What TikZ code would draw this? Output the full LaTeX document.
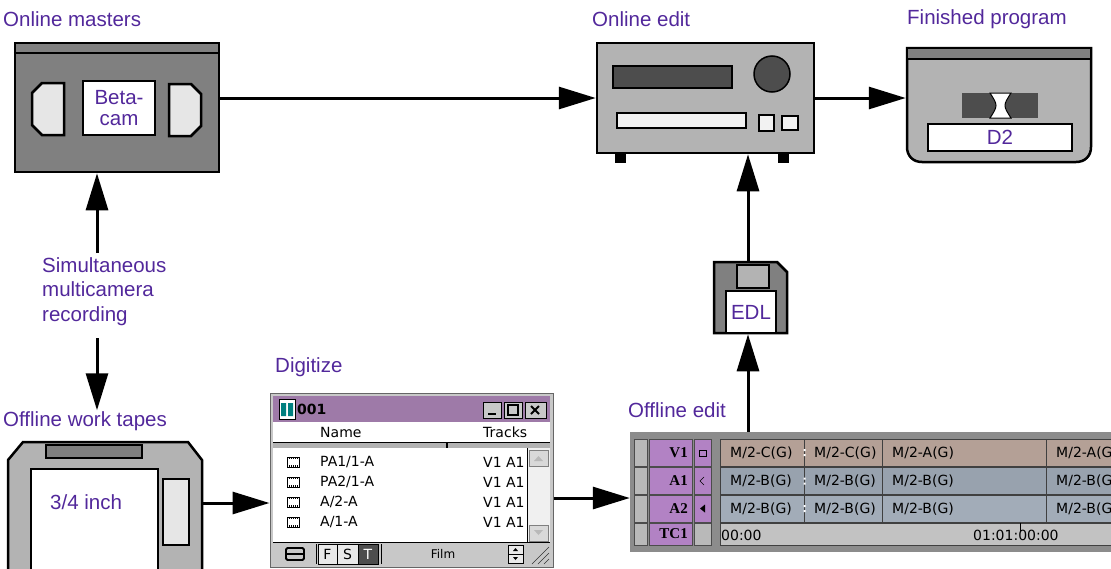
\documentclass[tikz,border=0pt]{standalone}
\usepackage{fontspec}
\setmainfont{Liberation Sans}
\newfontfamily\uifont{DejaVu Sans}
\newfontfamily\trkfont{Liberation Serif}
\usepackage{xcolor}
\usetikzlibrary{arrows.meta,positioning}
\definecolor{lblpurple}{RGB}{82,40,155}
\definecolor{tapegray}{RGB}{128,128,128}
\definecolor{bodygray}{RGB}{179,179,179}
\definecolor{darkgray}{RGB}{77,77,77}
\definecolor{panegray}{RGB}{230,230,230}
\definecolor{offwhite}{RGB}{242,242,242}
\definecolor{titlebar}{RGB}{158,122,168}
\definecolor{trackbg}{RGB}{178,130,196}
\definecolor{clipv}{RGB}{180,160,150}
\definecolor{clipa}{RGB}{152,162,174}
\definecolor{clipb}{RGB}{162,172,184}
\definecolor{panel}{RGB}{140,140,140}
\definecolor{ruler}{RGB}{194,194,194}
\definecolor{winframe}{RGB}{200,200,200}

\begin{document}
\begin{tikzpicture}[x=1pt, y=-1pt,
  lbl/.style={font=\fontsize{20.5}{22}\selectfont, text=lblpurple, inner sep=1pt},
  part/.style={draw, line width=2.5pt},
  tag/.style={lbl, part, fill=white, inner sep=0pt, align=center},
  ghost/.style={inner sep=0pt, outer sep=1.25pt},
  arr/.style={-{Triangle[length=37pt, width=22pt]}, line width=3pt},
  ui/.style={font=\uifont\fontsize{14}{16}\selectfont, inner sep=0pt},
  trk/.style={font=\trkfont\bfseries\fontsize{15}{17}\selectfont, inner sep=0pt}]
\useasboundingbox (0,0) rectangle (1111,568);

% captions
\node[lbl, anchor=west] (capbeta) at (2,19) {Online masters};
\node[lbl, anchor=west] (capdeck) at (591,19) {Online edit};
\node[lbl, anchor=west] (capd2) at (906,19) {Finished program};
\node[lbl, anchor=north west, align=left, font=\fontsize{20.5}{24.5}\selectfont] (sim) at (41,256)
  {Simultaneous\\multicamera\\recording};
\node[lbl, anchor=west] (captapes) at (2,421) {Offline work tapes};
\node[lbl, anchor=west] (capdig) at (274,367) {Digitize};
\node[lbl, anchor=west] (captl) at (627,410) {Offline edit};

% Betacam master
\node[part, fill=tapegray, minimum width=204pt, minimum height=129pt, inner sep=0pt] (beta) at (117,107.5) {};
\draw[part] (beta.north west |- 0,53) -- (beta.north east |- 0,53);
\draw[part, fill=panegray] (64,83) -- (42,83) -- (32,93) -- (32,125) -- (42,135) -- (64,135) -- cycle;
\draw[part, fill=panegray] (169,84) -- (191,84) -- (201,94) -- (201,126) -- (191,136) -- (169,136) -- cycle;
\node[tag, minimum width=72pt, minimum height=54pt, font=\fontsize{20.5}{21}\selectfont] (betalbl) at (119,108) {Beta-\\cam};

% online edit deck
\node[part, fill=bodygray, minimum width=217pt, minimum height=110pt, inner sep=0pt] (deck) at (705.5,98) {};
\draw[part, fill=darkgray] (613,66) rectangle (732,88);
\draw[line width=1.5pt, fill=darkgray] (772,74) circle[radius=18pt];
\draw[part, fill=offwhite] (617,113) rectangle (746,128);
\draw[part, fill=offwhite] (759,115) rectangle (774,131);
\draw[part, fill=offwhite] (782,116) rectangle (798,130);
\fill (615,154) rectangle (626,163);
\fill (778,154) rectangle (789,163);

% D2 cassette
\node[ghost, minimum width=184pt, minimum height=114pt] (d2) at (999,105) {};
\draw[part, fill=bodygray] (907,48) -- (1091,48) -- (1091,147) .. controls (1091,156) and (1085,162) .. (1076,162)
  -- (922,162) .. controls (913,162) and (907,156) .. (907,147) -- cycle;
\draw[part, fill=tapegray] (907,48) rectangle (1091,59);
\fill[darkgray] (962,93) rectangle (1038,118);
\draw[line width=1pt, fill=white] (990,93) .. controls (998,105.5) .. (990,118) -- (1011,118)
  .. controls (1003,105.5) .. (1011,93) -- cycle;
\node[tag, minimum width=144pt, minimum height=27pt] (d2lbl) at (1000,137.5) {D2};

% EDL floppy
\node[ghost, minimum width=73pt, minimum height=71pt] (edl) at (750.5,297.5) {};
\draw[part, fill=tapegray] (714,262) -- (777,262) -- (787,272) -- (787,333) -- (714,333) -- cycle;
\draw[part, fill=bodygray] (737,265) rectangle (769,288);
\node[tag, minimum width=50pt, minimum height=42pt] (edllbl) at (751,312) {EDL};

% 3/4 inch work tape
\node[ghost, minimum width=194pt, minimum height=122pt] (tapes) at (105,503) {};
\draw[part, fill=bodygray] (8,575) -- (8,460) -- (23,442) -- (188,442) -- (202,460) -- (202,575);
\draw[line width=2pt, fill=tapegray] (46,445) rectangle (142,458);
\draw[part, fill=white] (31,469) rectangle (158,575);
\draw[part, fill=panegray] (163,479) rectangle (189,545);
\node[lbl, anchor=west] (tapetxt) at (49,502) {3/4 inch};

% digitize bin window
\node[draw=black!60, line width=1pt, fill=winframe, minimum width=283pt, minimum height=174pt, inner sep=0pt] (dig) at (411.5,480) {};
\fill[titlebar] (273,396) rectangle (550,422);
\draw[fill=white] (279,399) rectangle (295,419);
\fill[teal] (281,403) rectangle (286,416) (288,403) rectangle (293,416);
\node[ui, font=\uifont\bfseries\fontsize{14}{16}\selectfont, anchor=west] (binname) at (297,409) {001};
\draw[fill=winframe] (483,402) rectangle (501,418) (504,402) rectangle (522,418) (525,402) rectangle (546,418);
\draw[line width=2pt] (488,414) -- (496,414);
\draw[line width=1.2pt] (508,405) rectangle (518,415);
\draw[line width=1.8pt] (531,406) -- (539,414) (539,406) -- (531,414);
\fill[white] (273,422) rectangle (550,442);
\node[ui, anchor=west] (hdname) at (320,432) {Name};
\node[ui, anchor=west] (hdtracks) at (483,432) {Tracks};
\fill[gray!60] (273,442) rectangle (550,448);
\draw[line width=1pt] (273,442.5) -- (550,442.5) (273,448) -- (550,448);
\draw[line width=2pt] (447,442) -- (447,448);
\fill[white] (273,448) rectangle (527,542);
% clip rows, each with a film-strip icon
\foreach \bname [count=\i] in {PA1/1-A, PA2/1-A, A/2-A, A/1-A} {
  \draw[line width=1pt] (287,{442+20*\i-5}) rectangle (299,{442+20*\i+5});
  \draw[line width=2pt, dash pattern=on 1pt off 1pt] (287,{442+20*\i-4}) -- (299,{442+20*\i-4})
    (287,{442+20*\i+4}) -- (299,{442+20*\i+4});
  \node[ui, anchor=west] at (320,442+20*\i) {\bname};
  \node[ui, anchor=west] at (483,442+20*\i) {V1 A1};
}
\fill[gray!12] (527,448) rectangle (550,542);
\draw (527,448) -- (527,542);
\draw[fill=gray!30, draw=gray] (529,450) rectangle (548,466) (529,525) rectangle (548,541);
\fill[gray!55] (534,461) -- (543,461) -- (538.5,456) -- cycle;
\fill[gray!55] (534,530) -- (543,530) -- (538.5,535) -- cycle;
\fill[winframe] (273,542) rectangle (550,566);
\draw[line width=1pt] (273,542) -- (550,542);
\draw[line width=1.8pt, rounded corners=1.5pt] (286,548) rectangle (304,560);
\draw[line width=1.8pt] (286,554) -- (304,554);
\draw[line width=1pt] (316,544) -- (316,564);
\foreach \xa/\xb/\t in {318/337/F, 337/358/S} {
  \draw[line width=1pt, fill=white!60!winframe] (\xa,544) rectangle (\xb,564);
  \node[ui] at ({(\xa+\xb)/2},554) {\t};
}
\draw[line width=1pt, fill=darkgray] (358,544) rectangle (378,564);
\node[ui, text=white] at (368,554) {T};
\draw[line width=1pt] (381,544) -- (381,564);
\node[ui, font=\uifont\fontsize{12}{14}\selectfont] (mode) at (443,554) {Film};
\draw[fill=white!60!winframe] (508,545) rectangle (523,563);
\draw (508,554) -- (523,554);
\fill (513,551) -- (518,551) -- (515.5,548) -- cycle;
\fill (513,557) -- (518,557) -- (515.5,560) -- cycle;
\foreach \d in {5,11,17} \draw[gray!40!black] (549-\d,564) -- (549,564-\d);

% offline edit timeline
\node[fill=panel, minimum width=490pt, minimum height=120pt, inner sep=0pt] (tl) at (875,492) {};
\foreach \t/\b [count=\r] in {439/466.5, 467.5/494.5, 495/522, 523/545} {
  \draw[fill=gray!55, draw=black!70] (634,\t) rectangle (647,\b);
  \draw[fill=trackbg, draw=black!70] (649,\t) rectangle (692,\b);
}
\draw[fill=trackbg, draw=black!70] (694,439) rectangle (711,466.5) (694,467.5) rectangle (711,494.5) (694,495) rectangle (711,522);
\draw[fill=gray!55, draw=black!70] (694,523) rectangle (711,545);
\node[trk, anchor=east] (tv1) at (688,453) {V1};
\node[trk, anchor=east] (ta1) at (688,481) {A1};
\node[trk, anchor=east] (ta2) at (688,509) {A2};
\node[trk, anchor=east] (ttc) at (688,534) {TC1};
\draw[line width=1pt] (699,450) rectangle (706,456);
\draw (704,477) -- (700,481) -- (704,485);
\fill (705,504.5) -- (700,508.5) -- (705,512.5) -- cycle;
\foreach \t/\b/\c in {439/466.5/clipv, 467.5/494.5/clipa, 495/522/clipb} {
  \foreach \xa/\xb in {720/804, 804/882, 882/1046, 1046/1125}
    \draw[fill=\c, draw=black!75] (\xa,\t) rectangle (\xb,\b);
  \fill[white] (803.5,{\t+10}) rectangle (805.5,{\t+12}) (803.5,{\t+15}) rectangle (805.5,{\t+17});
}
\foreach \xt/\k in {730/C, 814/C, 892/A, 1056/A}
  \node[ui, anchor=west] at (\xt,453) {M/2-\k(G)};
\foreach \xt in {730, 814, 892, 1056} {
  \node[ui, anchor=west] at (\xt,481) {M/2-B(G)};
  \node[ui, anchor=west] at (\xt,509) {M/2-B(G)};
}
\draw[fill=ruler, draw=black!75] (720,523) rectangle (1125,545);
\node[ui, anchor=west] (tcstart) at (721,535) {00:00};
\node[ui, anchor=west] (tcmark) at (973,535) {01:01:00:00};
\draw[line width=1pt] (1020,523) -- (1020,531);

% signal flow
\draw[arr] (beta.east |- deck.west) -- (deck.west);
\draw[arr] (deck.east) -- (deck.east -| d2.west);
\coordinate (simtop) at (97,253);
\coordinate (simbot) at (97,338);
\draw[arr] (simtop) -- (simtop |- beta.south);
\draw[arr] (simbot) -- (simbot |- captapes.north);
\draw[arr] (tapes.east) -- (tapes.east -| dig.west);
\draw[arr] ([yshift=-18pt]dig.east) -- ([yshift=-18pt]dig.east -| tl.west);
\draw[arr] ([xshift=-2.5pt]tl.north -| edl.south) -- ([xshift=-2.5pt]edl.south);
\draw[arr] ([xshift=-2.5pt]edl.north) -- ([xshift=-2.5pt]edl.north |- deck.south);
\end{tikzpicture}
\end{document}
